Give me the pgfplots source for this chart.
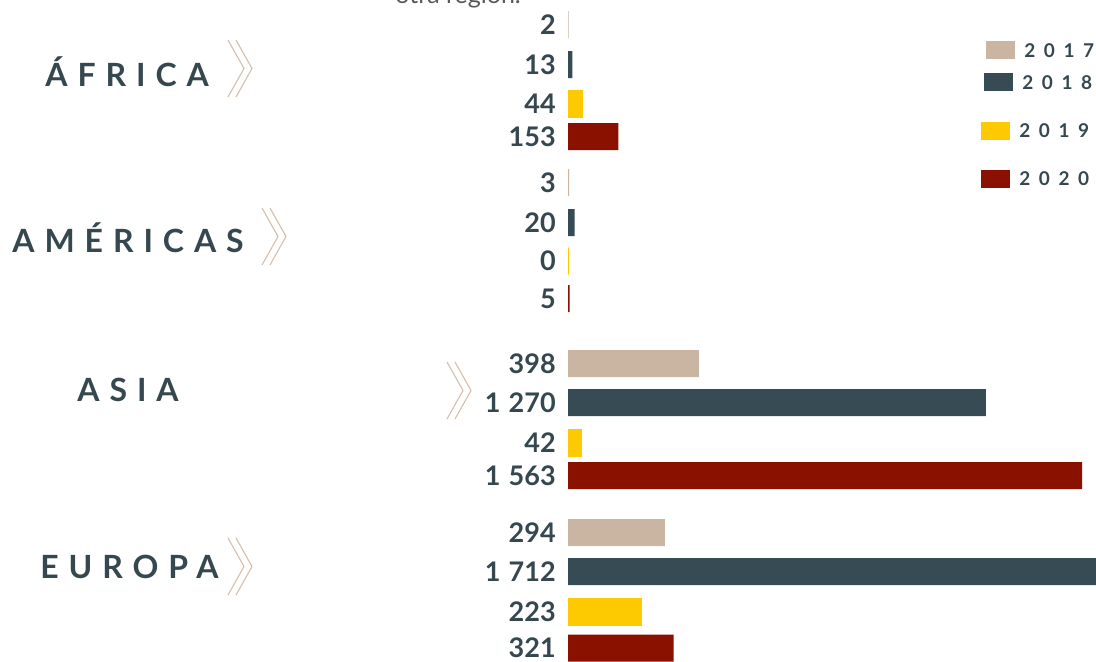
\documentclass[border=0pt]{standalone}
\usepackage{pgfplots}
\pgfplotsset{compat=1.18}
\usepackage{pgfplotstable}
\usepackage{fontspec}
\setmainfont{Lato}
\newfontfamily\spaced[LetterSpace=31]{Lato}
\newfontfamily\legfont[LetterSpace=45]{Lato}
\definecolor{c17}{HTML}{C9B5A1}
\definecolor{c18}{HTML}{364B53}
\definecolor{c19}{HTML}{FDC900}
\definecolor{c20}{HTML}{8A1000}
\definecolor{txt}{HTML}{36484F}
\definecolor{chev}{HTML}{D6BFA8}

% value, vertical position of the bar (pixels from top)
\pgfplotstableread{
val pos
2 24.5
3 182.5
398 363.5
294 532.5
}\tA
\pgfplotstableread{
val pos
13 64.5
20 222.5
1270 402.5
1712 571.5
}\tB
\pgfplotstableread{
val pos
44 103.5
0 261
42 442.5
223 611.5
}\tC
\pgfplotstableread{
val pos
153 136.5
5 298.5
1563 475.5
321 648
}\tD

\pgfplotsset{
  vallab/.style={draw=none, mark=none, nodes near coords, point meta=explicit,
    every node near coord/.append style={anchor=east, xshift=-6pt, inner sep=0pt,
      text=txt, font=\fontsize{13.5}{15}\selectfont\bfseries}},
  hb/.style={xbar, bar width=27, bar shift=0pt, draw=none, fill=#1},
}

\begin{document}
\begin{tikzpicture}
\begin{axis}[
  scale only axis, width=548pt, height=330.5pt,
  xmin=-1727, xmax=1605, ymin=0, ymax=661, y dir=reverse,
  hide axis, clip mode=individual,
  /pgf/number format/assume math mode=true,
  /pgf/number format/1000 sep={\hspace{0.3em}},
]
\addplot[hb=c17] table[x=val, y=pos] {\tA};
\addplot[hb=c18] table[x=val, y=pos] {\tB};
\addplot[hb=c19, draw=c19, line width=0.5pt] table[x=val, y=pos] {\tC};
\addplot[hb=c20] table[x=val, y=pos] {\tD};
\addplot[vallab] table[x expr=0, y=pos, meta=val] {\tA};
\addplot[vallab] table[x expr=0, y=pos, meta=val] {\tB};
\addplot[vallab] table[x expr=0, y=pos, meta=val] {\tC};
\addplot[vallab] table[x expr=0, y=pos, meta=val] {\tD};
\end{axis}
\begin{scope}[shift={(current axis.north west)}, x=0.5pt, y=-0.5pt]
  % top cut text
  \node[anchor=base west, inner sep=0pt, text=black!65, font=\fontsize{12.5}{15}\selectfont] at (395,3) {otra región.};
  % region names
  \begin{scope}[every node/.style={anchor=west, inner sep=0pt, text=txt, font=\fontsize{16}{18}\selectfont\spaced\bfseries}]
    \node at (45,72) {ÁFRICA};
    \node at (12,238) {AMÉRICAS};
    \node at (77,390) {ASIA};
    \node at (40,567) {EUROPA};
  \end{scope}
  % chevrons
  \begin{scope}[chev, line width=0.55pt]
    \foreach \cx/\cy in {228/40, 262/208, 447/362, 228/538} {
      \draw (\cx,\cy) -- ++(16,28.5) -- ++(-16,28.5);
      \draw (\cx+8,\cy) -- ++(16,28.5) -- ++(-16,28.5);
    }
  \end{scope}
  % legend
  \fill[c17] (986,41) rectangle (1015,59);
  \fill[c18] (984,73) rectangle (1013,91);
  \fill[c19] (981,122) rectangle (1010,140);
  \fill[c20] (981,170) rectangle (1010,188);
  \begin{scope}[every node/.style={anchor=west, inner sep=0pt, text=txt, font=\fontsize{9.5}{11}\selectfont\legfont\bfseries}]
    \node at (1024,51) {2017};
    \node at (1022,83) {2018};
    \node at (1019,131) {2019};
    \node at (1019,179) {2020};
  \end{scope}
\end{scope}
\pgfresetboundingbox
\useasboundingbox (current axis.south west) rectangle (current axis.north east);
\end{tikzpicture}
\end{document}
